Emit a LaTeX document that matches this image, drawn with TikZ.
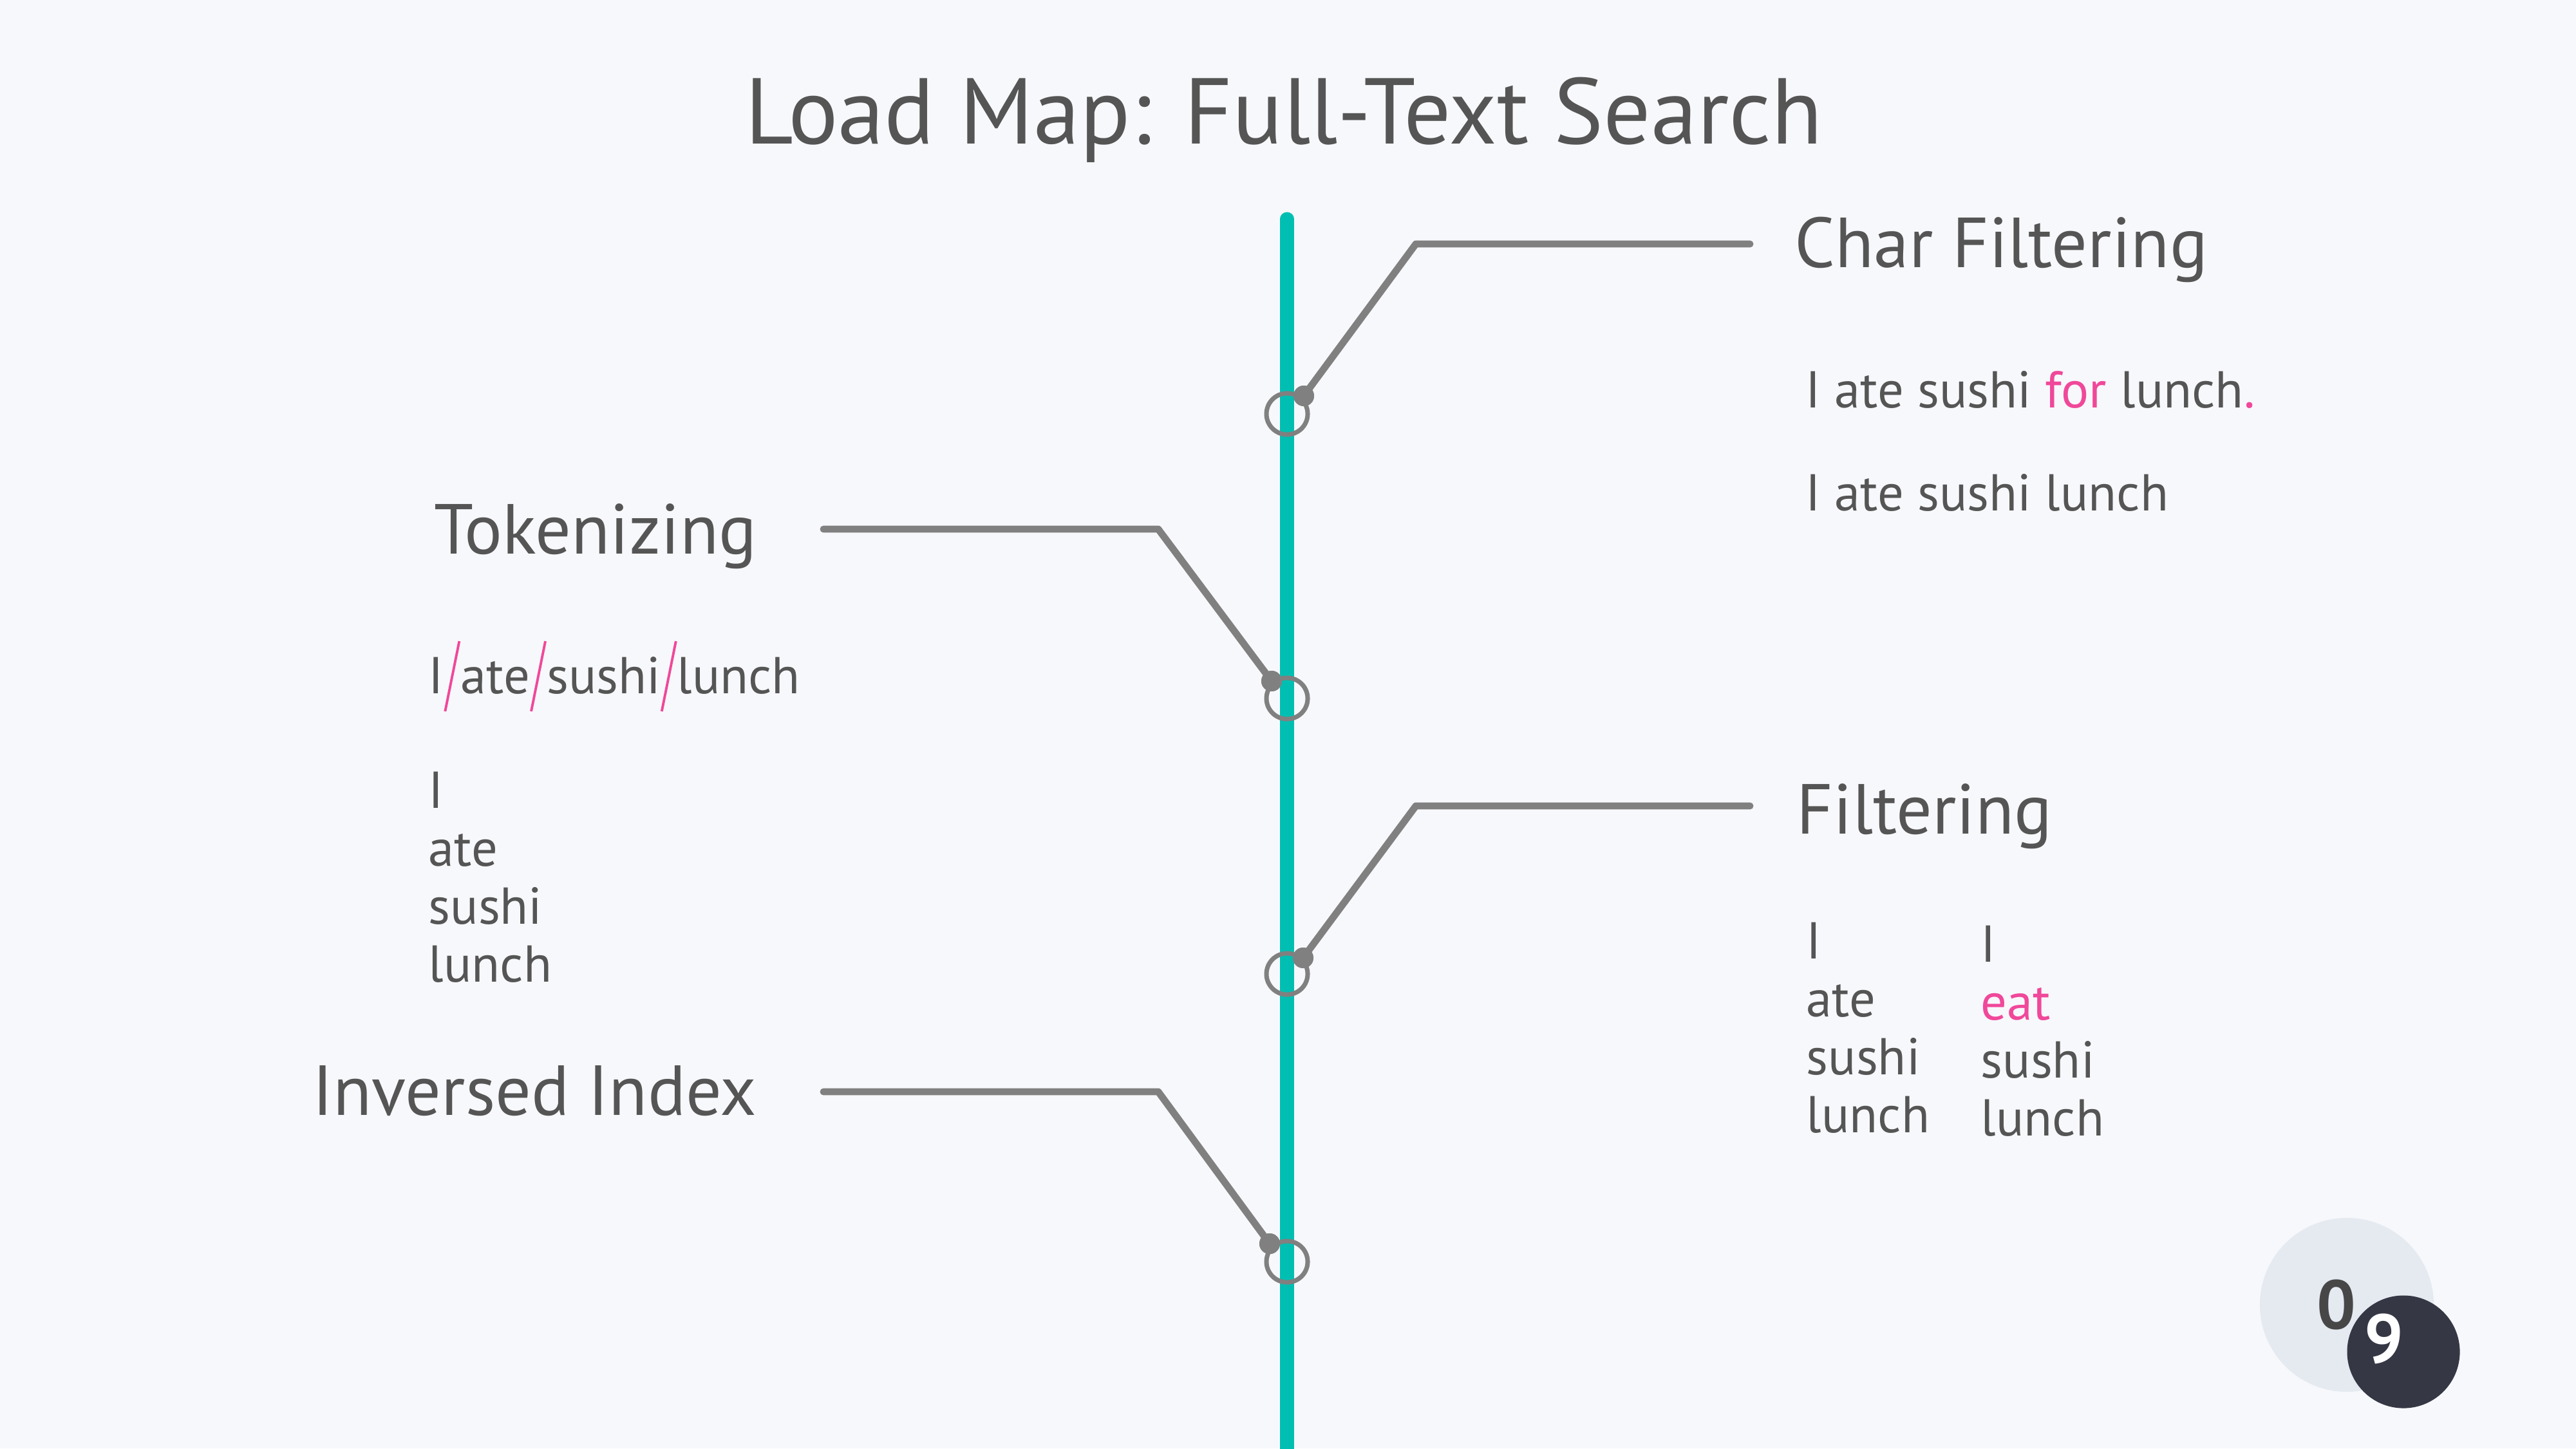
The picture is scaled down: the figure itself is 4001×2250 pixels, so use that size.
\documentclass[tikz,border=0pt]{standalone}
\usepackage{fontspec}
\setmainfont{PT Sans}
\usetikzlibrary{positioning,calc}

\definecolor{paper}{HTML}{F7F8FB}
\definecolor{rail}{HTML}{00BFB2}
\definecolor{wire}{HTML}{808080}
\definecolor{ink}{HTML}{555555}
\definecolor{hl}{HTML}{F0489A}
\definecolor{badgelt}{HTML}{E5EAF1}
\definecolor{badgedk}{HTML}{353744}

\tikzset{
  title/.style={font=\fontsize{41.3}{48}\selectfont, text=ink, inner sep=0pt},
  heading/.style={font=\fontsize{31.3}{36}\selectfont, text=ink, inner sep=0pt},
  body/.style={font=\fontsize{22.9}{27}\selectfont, text=ink, inner sep=0pt},
  stop/.style={circle, draw=wire, line width=2pt, minimum size=0.64cm, inner sep=0pt},
  dot/.style={circle, fill=wire, minimum size=0.32cm, inner sep=0pt},
  conn/.style={draw=wire, line width=3.1pt, line cap=round, line join=round},
  slash/.style={draw=hl, line width=1.1pt},
  digit/.style={font=\bfseries\fontsize{30.5}{36}\selectfont, inner sep=0pt}
}

\begin{document}
\begin{tikzpicture}[x=0.01cm,y=-0.01cm]
\useasboundingbox (0,0) rectangle (4001,2250);
\fill[paper] (0,0) rectangle (4001,2250);

\node[title, anchor=base] (ttl) at (1994,223) {Load Map: Full-Text Search};

% rail with four stops
\coordinate (rtop) at (1999,340);
\coordinate (rbot) at (1999,2260);
\draw[rail, line width=6pt, line cap=round] (rtop) -- (rbot);
\node[stop] (st1) at (1999,643) {};
\node[stop] (st2) at (1999,1085) {};
\node[stop] (st3) at (1999,1513) {};
\node[stop] (st4) at (1999,1960) {};

\node[dot] (dt1) at (2025,615) {};
\node[dot] (dt2) at (1975,1058) {};
\node[dot] (dt3) at (2024,1488) {};
\node[dot] (dt4) at (1972,1932) {};

\coordinate (bd1) at (2199,379);
\coordinate (ce1) at (2718,379);
\coordinate (ce2) at (1279,822);
\coordinate (bd2) at (1799,822);
\coordinate (bd3) at (2199,1252);
\coordinate (ce3) at (2718,1252);
\coordinate (ce4) at (1279,1696);
\coordinate (bd4) at (1799,1696);

\draw[conn] (dt1.center) -- (bd1) -- (ce1);
\draw[conn] (ce2) -- (bd2) -- (dt2.center);
\draw[conn] (dt3.center) -- (bd3) -- (ce3);
\draw[conn] (ce4) -- (bd4) -- (dt4.center);
\node[dot] at (dt1) {};
\node[dot] at (dt2) {};
\node[dot] at (dt3) {};
\node[dot] at (dt4) {};

% char filtering
\node[heading, anchor=base west] (hcf) at (2787,415) {Char Filtering};
\node[body, anchor=base west] (cf1) at (2804,633) {I ate sushi {\color{hl}for} lunch{\color{hl}.}};
\node[body, anchor=base west] (cf2) at (2804,793) {I ate sushi lunch};

% tokenizing
\node[heading, anchor=base east] (htk) at (1176,860) {Tokenizing};
\node[body, anchor=base west] (w1) at (665,1077) {I};
\node[body, base right=0.25cm of w1] (w2) {ate};
\node[body, base right=0.25cm of w2] (w3) {sushi};
\node[body, base right=0.24cm of w3] (w4) {lunch};
\coordinate (g1) at ($(w1.base east)!.5!(w2.base west)$);
\coordinate (g2) at ($(w2.base east)!.5!(w3.base west)$);
\coordinate (g3) at ($(w3.base east)!.5!(w4.base west)$);
\foreach \g in {g1,g2,g3}
  \draw[slash] ($(\g)+(11,-81)$) -- ($(\g)+(-11,28)$);
\foreach \w [count=\i] in {I,ate,sushi,lunch}
  \node[body, anchor=base west] (tk\i) at (665,{1255+90*(\i-1)}) {\w};

% filtering
\node[heading, anchor=base west] (hft) at (2790,1295) {Filtering};
\foreach \w [count=\i] in {I,ate,sushi,lunch}
  \node[body, anchor=base west] (fa\i) at (2805,{1489+90*(\i-1)}) {\w};
\foreach \w [count=\i] in {I,{\color{hl}eat},sushi,lunch}
  \node[body, anchor=base west] (fb\i) at (3076,{1494+90*(\i-1)}) {\w};

% inversed index
\node[heading, anchor=base east] (hii) at (1176,1732) {Inversed Index};

% page badge
\fill[badgelt] (3645,2027) circle (1.35cm);
\fill[badgedk] (3733,2100) circle (0.875cm);
\node[digit, text=black!72] (pg0) at (3629,2027) {0};
\node[digit, text=white] (pg9) at (3703,2080) {9};
\end{tikzpicture}
\end{document}
